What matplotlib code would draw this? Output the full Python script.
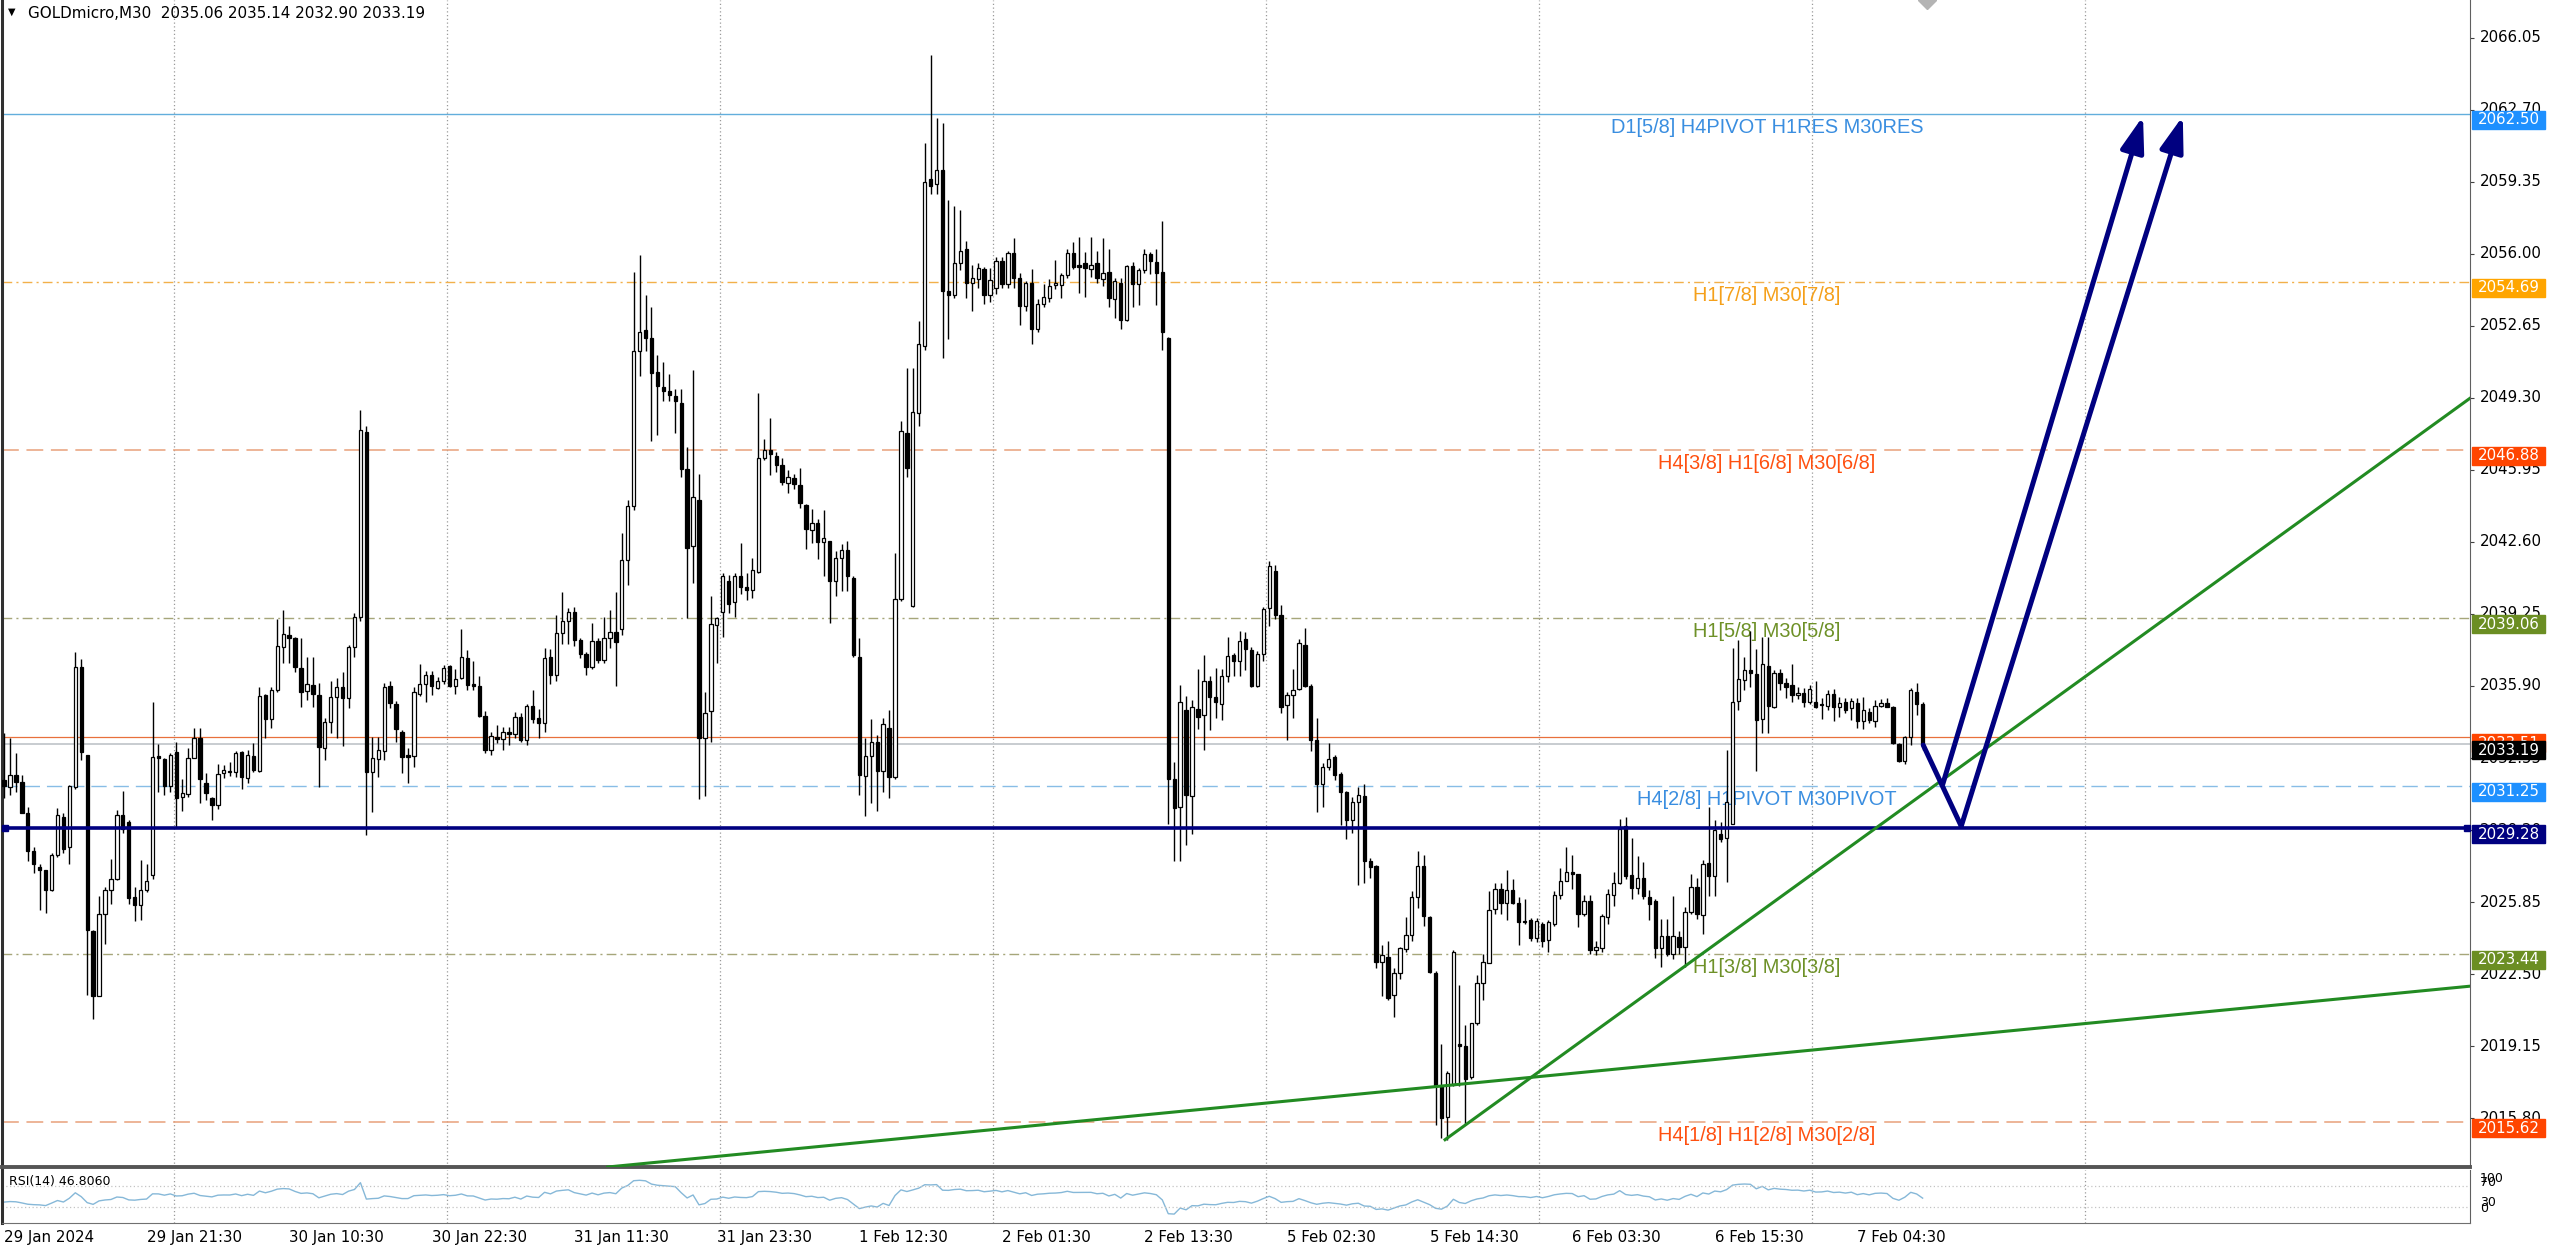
import numpy as np
import matplotlib
matplotlib.use("Agg")
import matplotlib.pyplot as plt
from matplotlib import font_manager as fm
from matplotlib.patches import Rectangle
from matplotlib.transforms import blended_transform_factory, ScaledTranslation

# --------------------------------------------------------------
# datos GOLDmicro M30
# --------------------------------------------------------------
opens = [
    2031.53, 2031.21, 2031.76, 2031.45, 2030.00, 2028.23, 2027.49, 2027.36, 2026.40, 2028.03,
    2029.82, 2028.42, 2031.21, 2036.76, 2032.69, 2024.51, 2021.48, 2025.31, 2026.40, 2026.94,
    2029.89, 2029.58, 2026.09, 2025.70, 2026.40, 2027.10, 2032.64, 2032.49, 2031.26, 2032.81,
    2030.75, 2030.86, 2032.57, 2033.50, 2031.40, 2030.67, 2030.35, 2031.87, 2031.90, 2031.91,
    2032.81, 2031.60, 2032.64, 2031.96, 2035.49, 2034.37, 2035.69, 2037.69, 2038.25, 2038.13,
    2036.73, 2035.67, 2035.94, 2035.47, 2033.00, 2034.21, 2035.38, 2035.87, 2035.33, 2037.71,
    2039.10, 2047.70, 2031.91, 2032.49, 2032.89, 2035.92, 2035.07, 2033.78, 2032.69, 2032.62,
    2035.53, 2035.97, 2036.42, 2035.80, 2036.12, 2036.83, 2035.88, 2036.28, 2037.22, 2035.97,
    2035.88, 2034.49, 2032.94, 2033.51, 2033.42, 2033.78, 2033.66, 2034.46, 2033.39, 2034.99,
    2034.40, 2034.19, 2037.26, 2036.42, 2038.38, 2038.91, 2039.36, 2038.02, 2037.40, 2036.78,
    2037.97, 2037.13, 2038.11, 2038.43, 2038.56, 2041.77, 2044.26, 2051.48, 2052.46, 2052.10,
    2050.50, 2049.79, 2049.61, 2049.38, 2049.07, 2046.01, 2042.39, 2044.53, 2033.48, 2034.72,
    2038.74, 2039.36, 2040.79, 2039.81, 2041.00, 2040.52, 2040.34, 2041.18, 2046.52, 2046.88,
    2046.58, 2046.19, 2045.33, 2045.56, 2045.24, 2044.32, 2043.16, 2043.48, 2042.59, 2042.66,
    2040.77, 2041.85, 2042.24, 2040.94, 2037.24, 2031.70, 2032.63, 2033.30, 2031.94, 2033.96,
    2031.65, 2039.95, 2047.66, 2039.63, 2048.58, 2051.71, 2059.47, 2059.25, 2059.91, 2054.25,
    2054.07, 2055.55, 2056.22, 2054.66, 2054.81, 2055.30, 2054.07, 2054.42, 2055.65, 2054.57,
    2056.02, 2054.86, 2053.58, 2054.62, 2052.52, 2053.68, 2053.93, 2054.54, 2054.54, 2055.03,
    2056.04, 2055.48, 2055.55, 2055.30, 2055.55, 2054.81, 2055.16, 2053.88, 2054.66, 2052.94,
    2055.43, 2054.57, 2055.23, 2055.97, 2055.60, 2055.16, 2052.10, 2031.57, 2030.27, 2034.78,
    2030.76, 2034.85, 2034.53, 2036.14, 2035.41, 2035.07, 2036.35, 2037.33, 2037.06, 2038.10,
    2037.56, 2035.91, 2037.38, 2039.52, 2041.25, 2039.20, 2035.01, 2035.50, 2035.78, 2037.81,
    2035.91, 2033.37, 2031.32, 2032.11, 2032.61, 2031.81, 2030.97, 2029.67, 2030.50, 2030.79,
    2027.76, 2027.53, 2023.07, 2023.30, 2021.52, 2022.54, 2023.69, 2024.32, 2026.10, 2027.53,
    2025.16, 2022.54, 2017.28, 2015.85, 2017.37, 2019.20, 2019.15, 2017.72, 2020.22, 2022.09,
    2023.02, 2025.52, 2026.46, 2025.83, 2026.40, 2025.80, 2024.98, 2025.03, 2024.19, 2024.85,
    2024.09, 2024.85, 2026.19, 2026.81, 2027.26, 2027.17, 2025.30, 2025.92, 2023.61, 2023.70,
    2025.16, 2026.20, 2026.73, 2029.37, 2027.13, 2026.51, 2026.98, 2026.07, 2025.92, 2023.71,
    2024.28, 2023.43, 2024.24, 2023.77, 2025.37, 2026.57, 2025.26, 2027.66, 2027.04, 2029.03,
    2028.84, 2029.50, 2035.22, 2036.18, 2036.65, 2036.46, 2034.35, 2036.84, 2034.94, 2036.49,
    2036.06, 2035.95, 2035.48, 2035.56, 2035.17, 2035.17, 2035.06, 2034.97, 2035.53, 2034.91,
    2035.17, 2034.86, 2035.13, 2034.29, 2034.70, 2034.29, 2034.97, 2035.09, 2034.94, 2033.20,
    2032.42, 2033.51, 2035.64, 2035.06,
]
highs = [
    2033.70, 2033.47, 2032.77, 2031.76, 2030.28, 2028.42, 2027.64, 2027.36, 2028.11, 2030.21,
    2029.97, 2031.29, 2037.47, 2037.15, 2032.69, 2024.54, 2026.12, 2026.56, 2027.86, 2030.13,
    2031.03, 2029.66, 2026.56, 2027.80, 2027.64, 2035.14, 2033.20, 2032.54, 2032.77, 2033.30,
    2031.56, 2033.00, 2033.96, 2033.93, 2031.84, 2030.75, 2032.27, 2032.22, 2032.38, 2032.88,
    2032.89, 2032.92, 2033.23, 2035.87, 2035.53, 2035.87, 2039.00, 2039.45, 2038.67, 2038.20,
    2038.13, 2037.27, 2037.24, 2036.03, 2034.40, 2036.14, 2036.26, 2036.57, 2037.82, 2039.30,
    2048.75, 2048.00, 2033.54, 2033.54, 2036.06, 2036.11, 2035.18, 2033.85, 2033.00, 2035.83,
    2036.90, 2036.60, 2036.60, 2036.33, 2036.87, 2036.87, 2036.69, 2038.56, 2037.58, 2037.04,
    2036.36, 2034.72, 2033.75, 2034.10, 2034.01, 2034.01, 2034.69, 2034.63, 2035.08, 2035.71,
    2034.81, 2037.67, 2037.62, 2039.18, 2040.29, 2039.54, 2039.57, 2038.11, 2037.49, 2038.83,
    2038.11, 2039.09, 2039.45, 2040.25, 2043.01, 2044.53, 2055.13, 2055.94, 2054.07, 2053.53,
    2051.30, 2050.95, 2050.41, 2049.70, 2049.70, 2047.03, 2050.59, 2045.78, 2035.62, 2040.07,
    2039.09, 2041.14, 2041.05, 2041.14, 2042.57, 2041.14, 2041.86, 2049.52, 2047.38, 2048.36,
    2046.76, 2046.49, 2045.92, 2045.78, 2046.04, 2044.35, 2044.14, 2043.65, 2044.07, 2042.66,
    2042.17, 2042.49, 2042.66, 2041.01, 2038.15, 2033.47, 2034.36, 2033.62, 2034.41, 2034.77,
    2042.10, 2048.21, 2050.67, 2050.67, 2052.89, 2061.14, 2065.26, 2062.33, 2062.06, 2058.51,
    2058.20, 2058.02, 2056.59, 2055.48, 2055.55, 2055.40, 2055.35, 2055.85, 2055.85, 2056.14,
    2056.71, 2055.11, 2054.74, 2055.30, 2053.88, 2054.57, 2054.81, 2055.72, 2055.11, 2056.22,
    2056.54, 2056.78, 2056.09, 2056.78, 2056.14, 2056.71, 2056.22, 2054.86, 2054.86, 2055.48,
    2055.60, 2055.35, 2056.22, 2056.09, 2056.22, 2057.52, 2052.15, 2032.38, 2035.94, 2035.44,
    2035.27, 2036.67, 2037.32, 2036.35, 2036.74, 2036.71, 2038.17, 2037.42, 2038.45, 2038.40,
    2037.69, 2037.51, 2039.56, 2041.70, 2041.52, 2039.65, 2035.64, 2036.71, 2038.10, 2038.58,
    2035.99, 2034.39, 2032.34, 2033.23, 2032.70, 2031.89, 2031.00, 2030.73, 2031.18, 2031.36,
    2027.88, 2027.58, 2023.87, 2024.05, 2022.80, 2023.78, 2025.16, 2026.37, 2028.24, 2028.06,
    2025.21, 2022.63, 2019.24, 2017.99, 2023.61, 2022.00, 2020.13, 2020.22, 2022.45, 2023.43,
    2026.37, 2026.76, 2026.76, 2027.35, 2026.90, 2026.10, 2026.01, 2025.12, 2025.12, 2024.94,
    2025.03, 2026.37, 2027.44, 2028.42, 2028.06, 2027.17, 2026.19, 2026.19, 2024.05, 2025.30,
    2026.46, 2027.24, 2029.73, 2029.81, 2028.84, 2027.97, 2027.71, 2026.42, 2025.99, 2025.06,
    2025.06, 2026.15, 2024.52, 2025.64, 2027.16, 2026.98, 2027.79, 2030.27, 2029.65, 2029.57,
    2032.92, 2037.66, 2038.05, 2037.27, 2038.44, 2037.61, 2038.20, 2038.17, 2036.65, 2036.68,
    2036.26, 2036.93, 2035.84, 2035.80, 2035.95, 2036.11, 2035.33, 2035.69, 2035.75, 2035.40,
    2035.33, 2035.33, 2035.33, 2035.40, 2034.86, 2035.25, 2035.28, 2035.33, 2034.97, 2033.26,
    2033.57, 2035.79, 2036.06, 2035.14,
]
lows = [
    2030.67, 2030.83, 2030.98, 2029.97, 2027.77, 2027.18, 2025.47, 2025.35, 2026.37, 2027.95,
    2028.11, 2027.60, 2031.09, 2032.46, 2021.51, 2020.39, 2021.48, 2023.89, 2025.78, 2026.87,
    2029.04, 2025.75, 2024.96, 2025.03, 2026.32, 2026.90, 2030.95, 2030.83, 2030.98, 2029.35,
    2030.10, 2030.72, 2032.54, 2030.47, 2030.59, 2029.69, 2030.16, 2031.60, 2031.71, 2031.68,
    2031.09, 2031.37, 2031.91, 2031.91, 2033.47, 2033.93, 2035.64, 2036.96, 2036.96, 2036.57,
    2034.91, 2035.25, 2034.91, 2031.21, 2032.46, 2033.70, 2033.50, 2033.11, 2034.86, 2037.27,
    2038.90, 2028.96, 2030.05, 2031.68, 2032.46, 2034.86, 2033.31, 2031.87, 2031.40, 2032.14,
    2035.44, 2035.17, 2035.47, 2035.76, 2035.97, 2035.83, 2035.53, 2036.24, 2035.70, 2035.70,
    2034.46, 2032.76, 2032.68, 2033.26, 2032.94, 2033.15, 2033.48, 2033.30, 2033.15, 2034.19,
    2033.48, 2033.75, 2035.97, 2036.15, 2037.85, 2037.85, 2037.76, 2037.22, 2036.42, 2036.69,
    2036.95, 2036.95, 2037.67, 2035.88, 2038.29, 2040.61, 2044.08, 2050.32, 2051.48, 2047.29,
    2047.56, 2049.16, 2049.16, 2047.65, 2045.60, 2039.04, 2040.70, 2030.63, 2030.80, 2033.30,
    2036.95, 2038.20, 2039.27, 2039.09, 2040.16, 2039.90, 2039.98, 2041.14, 2046.40, 2045.69,
    2045.87, 2045.24, 2044.89, 2045.06, 2044.17, 2042.25, 2042.54, 2041.80, 2041.01, 2038.84,
    2040.08, 2040.32, 2040.32, 2037.24, 2030.83, 2029.85, 2030.46, 2030.09, 2030.96, 2030.71,
    2031.58, 2039.83, 2045.62, 2039.58, 2048.01, 2051.53, 2058.80, 2058.80, 2051.16, 2052.03,
    2053.92, 2055.23, 2053.92, 2053.33, 2054.42, 2053.68, 2053.75, 2054.12, 2054.42, 2054.42,
    2054.42, 2052.69, 2053.33, 2051.78, 2052.35, 2053.51, 2053.75, 2054.37, 2053.93, 2054.86,
    2055.30, 2054.17, 2054.00, 2054.91, 2054.66, 2054.49, 2053.51, 2053.01, 2052.52, 2052.89,
    2053.51, 2053.63, 2055.11, 2055.06, 2053.63, 2051.53, 2029.48, 2027.75, 2027.75, 2028.49,
    2029.00, 2033.91, 2032.93, 2033.86, 2034.39, 2034.30, 2036.08, 2036.35, 2036.35, 2036.62,
    2035.85, 2035.85, 2037.06, 2038.67, 2039.00, 2034.66, 2033.41, 2034.39, 2035.73, 2035.85,
    2032.88, 2030.02, 2030.25, 2031.98, 2031.54, 2029.43, 2028.78, 2029.04, 2026.64, 2026.72,
    2026.99, 2022.80, 2021.47, 2021.29, 2020.52, 2022.27, 2023.52, 2024.05, 2025.57, 2024.76,
    2022.54, 2015.50, 2014.87, 2014.78, 2017.30, 2017.28, 2015.50, 2017.63, 2020.13, 2021.29,
    2023.02, 2025.30, 2025.30, 2025.03, 2025.75, 2023.87, 2024.85, 2024.02, 2023.99, 2023.78,
    2023.52, 2024.76, 2026.01, 2026.81, 2026.46, 2024.68, 2025.21, 2023.43, 2023.40, 2023.52,
    2024.85, 2025.69, 2026.70, 2026.93, 2025.99, 2026.23, 2025.99, 2025.02, 2023.27, 2022.81,
    2023.35, 2023.20, 2023.43, 2022.81, 2025.30, 2025.06, 2024.36, 2026.15, 2026.15, 2028.64,
    2026.77, 2029.47, 2034.78, 2035.72, 2035.84, 2031.95, 2033.72, 2033.69, 2034.86, 2035.72,
    2035.33, 2035.17, 2035.29, 2034.91, 2035.06, 2034.86, 2034.35, 2034.78, 2034.28, 2034.47,
    2034.63, 2034.32, 2033.93, 2033.88, 2034.16, 2033.97, 2034.91, 2034.91, 2033.20, 2032.37,
    2032.29, 2033.15, 2034.55, 2032.90,
]
closes = [
    2031.25, 2031.76, 2031.45, 2030.00, 2028.23, 2027.61, 2027.33, 2026.40, 2028.03, 2029.89,
    2028.33, 2031.25, 2036.77, 2032.85, 2024.57, 2021.46, 2025.31, 2026.40, 2026.94, 2029.89,
    2029.27, 2026.06, 2025.70, 2026.43, 2026.82, 2032.61, 2032.55, 2031.26, 2032.69, 2030.67,
    2030.92, 2032.57, 2033.50, 2031.56, 2030.90, 2030.35, 2031.81, 2031.99, 2031.96, 2032.77,
    2031.65, 2032.69, 2031.99, 2035.44, 2034.37, 2035.72, 2037.74, 2038.31, 2038.13, 2036.76,
    2035.64, 2035.98, 2035.53, 2033.05, 2034.21, 2035.38, 2035.83, 2035.33, 2037.71, 2039.10,
    2047.80, 2031.91, 2032.53, 2032.92, 2035.87, 2035.10, 2033.89, 2032.58, 2032.61, 2035.62,
    2035.97, 2036.42, 2035.88, 2036.15, 2036.72, 2035.88, 2036.24, 2037.26, 2035.94, 2035.88,
    2034.49, 2032.94, 2033.57, 2033.42, 2033.78, 2033.66, 2034.46, 2033.39, 2034.99, 2034.37,
    2034.19, 2037.22, 2036.42, 2038.38, 2038.91, 2039.32, 2038.02, 2037.40, 2036.78, 2037.97,
    2037.13, 2038.11, 2038.43, 2037.93, 2041.77, 2044.26, 2051.48, 2052.37, 2052.10, 2050.45,
    2049.84, 2049.61, 2049.43, 2049.16, 2046.01, 2042.30, 2044.67, 2033.48, 2034.64, 2038.77,
    2039.04, 2041.02, 2039.72, 2041.02, 2040.52, 2040.34, 2041.28, 2046.49, 2046.88, 2046.67,
    2046.19, 2045.38, 2045.63, 2045.28, 2044.39, 2043.19, 2043.48, 2042.59, 2042.79, 2040.77,
    2041.85, 2042.24, 2041.01, 2037.32, 2031.75, 2032.63, 2033.30, 2031.94, 2034.11, 2031.65,
    2039.95, 2047.76, 2046.04, 2048.65, 2051.78, 2059.35, 2059.17, 2059.91, 2054.25, 2054.07,
    2055.55, 2056.14, 2054.66, 2054.86, 2055.35, 2054.07, 2054.79, 2055.65, 2054.57, 2056.02,
    2054.86, 2053.58, 2054.62, 2052.52, 2053.68, 2054.00, 2054.49, 2054.64, 2055.03, 2056.04,
    2055.40, 2055.40, 2055.35, 2055.48, 2054.86, 2055.11, 2053.93, 2054.74, 2052.94, 2055.43,
    2054.57, 2055.23, 2055.97, 2055.65, 2055.11, 2052.35, 2031.57, 2030.22, 2035.15, 2030.83,
    2034.90, 2034.46, 2036.14, 2035.37, 2035.14, 2036.35, 2037.28, 2037.06, 2037.99, 2037.63,
    2035.91, 2037.38, 2039.47, 2041.48, 2039.20, 2034.92, 2035.50, 2035.73, 2037.92, 2035.91,
    2033.37, 2031.32, 2032.11, 2032.52, 2031.75, 2030.97, 2029.67, 2030.50, 2030.82, 2027.76,
    2027.47, 2023.07, 2023.37, 2021.41, 2022.54, 2023.73, 2024.32, 2026.10, 2027.53, 2025.21,
    2022.59, 2017.31, 2015.82, 2017.90, 2023.52, 2019.18, 2017.63, 2020.22, 2022.09, 2023.07,
    2025.48, 2026.46, 2025.83, 2026.40, 2025.83, 2024.94, 2024.91, 2024.19, 2024.98, 2024.05,
    2024.94, 2026.19, 2026.81, 2027.26, 2027.15, 2025.30, 2025.92, 2023.61, 2023.78, 2025.21,
    2026.23, 2026.73, 2029.26, 2027.04, 2026.51, 2026.98, 2026.15, 2025.76, 2023.71, 2024.28,
    2023.43, 2024.28, 2023.77, 2025.37, 2026.57, 2025.30, 2027.63, 2027.04, 2029.18, 2028.80,
    2030.51, 2035.17, 2036.21, 2036.62, 2036.49, 2034.32, 2036.93, 2034.97, 2036.49, 2036.06,
    2035.87, 2035.48, 2035.59, 2035.17, 2035.75, 2034.91, 2035.00, 2035.53, 2034.94, 2035.13,
    2034.78, 2035.22, 2034.29, 2034.78, 2034.32, 2034.97, 2035.09, 2034.94, 2033.23, 2032.42,
    2033.51, 2035.72, 2035.06, 2033.19,
]

price_ticks = [2066.05, 2062.70, 2059.35, 2056.00, 2052.65, 2049.30, 2045.95, 2042.60,
               2039.25, 2035.90, 2032.55, 2029.20, 2025.85, 2022.50, 2019.15, 2015.80]
time_labels = ["29 Jan 2024", "29 Jan 21:30", "30 Jan 10:30", "30 Jan 22:30", "31 Jan 11:30",
               "31 Jan 23:30", "1 Feb 12:30", "2 Feb 01:30", "2 Feb 13:30", "5 Feb 02:30",
               "5 Feb 14:30", "6 Feb 03:30", "6 Feb 15:30", "7 Feb 04:30"]
label_bars = [0, 24, 48, 72, 96, 120, 144, 168, 192, 216, 240, 264, 288, 312]
day_lines = [28.6, 74.6, 120.5, 166.5, 212.5, 258.4, 304.4, 350.4]

levels = [2062.50, 2054.69, 2046.88, 2039.06, 2033.51, 2033.19, 2031.25, 2029.28, 2023.44, 2015.62]
level_names = ["D1[5/8] H4PIVOT H1RES M30RES", "H1[7/8] M30[7/8]", "H4[3/8] H1[6/8] M30[6/8]",
               "H1[5/8] M30[5/8]", "", "", "H4[2/8] H1PIVOT M30PIVOT", "",
               "H1[3/8] M30[3/8]", "H4[1/8] H1[2/8] M30[2/8]"]

# lineas dibujadas a mano en el grafico (barra, precio)
trend_a_x = [199.7, 415.2]
trend_a_y = [2016.16, 2021.94]
trend_b_x = [242.6, 415.2]
trend_b_y = [2014.80, 2049.29]
path_x = [323.1, 329.5]
path_y = [2033.15, 2029.38]
arrow_from = [(326.4, 2031.34), (329.5, 2029.38)]
arrow_to = [(360.1, 2062.40), (366.8, 2062.40)]

# --------------------------------------------------------------
# estilos
# --------------------------------------------------------------
DD = (0, (7, 3, 1.5, 3))
DS = (0, (11, 5))
styles = [
    dict(c="#62aedc", ls="-", lw=1.0, box="#1e90ff", tc="#3a8ee0"),
    dict(c="#f2b04a", ls=DD, lw=1.0, box="#ffa500", tc="#f5a01a"),
    dict(c="#e8a07a", ls=DS, lw=1.1, box="#ff4500", tc="#ff5010"),
    dict(c="#a6a67a", ls=DD, lw=1.0, box="#6b8e23", tc="#6e9128"),
    dict(c="#e8703c", ls="-", lw=0.9, box="#ff4500", tc=None),
    dict(c="#c8ccd0", ls="-", lw=1.4, box="#000000", tc=None),
    dict(c="#88bde6", ls=DS, lw=1.0, box="#1e90ff", tc="#3a8ee0"),
    dict(c="#000080", ls="-", lw=2.6, box="#000080", tc=None),
    dict(c="#a6a67a", ls=DD, lw=1.0, box="#6b8e23", tc="#6e9128"),
    dict(c="#e8a07a", ls=DS, lw=1.1, box="#ff4500", tc="#ff5010"),
]
NAVY = "#000080"
GREEN = "#228b22"

plt.rcParams["font.family"] = "DejaVu Sans"
names = {f.name for f in fm.fontManager.ttflist}
if "Liberation Sans Narrow" in names:
    xfont, xsize, rsize = "Liberation Sans Narrow", 14.0, 12.5
else:
    xfont, xsize, rsize = "DejaVu Sans", 10.8, 9.0

o = np.array(opens)
h = np.array(highs)
l = np.array(lows)
c = np.array(closes)
n = len(c)
idx = np.arange(n)

# RSI(14) de Wilder a partir de los cierres
diff = np.diff(c)
gain = np.clip(diff, 0, None)
loss = np.clip(-diff, 0, None)
ag, al = gain[:14].mean(), loss[:14].mean()
rsi = np.empty(n)
rsi[0] = 100 * ag / (ag + al)
for i in range(1, n):
    ag = (ag * 13 + gain[i - 1]) / 14
    al = (al * 13 + loss[i - 1]) / 14
    rsi[i] = 100 * ag / (ag + al)

# --------------------------------------------------------------
# figura
# --------------------------------------------------------------
W, H = 2560, 1252
fig = plt.figure(figsize=(W / 100, H / 100), dpi=100, facecolor="white")
ax = fig.add_axes([2 / W, 1 - 1167 / H, 2468 / W, 1167 / H])
rx = fig.add_axes([2 / W, 1 - 1223 / H, 2468 / W, 53 / H], sharex=ax)

ax.set_xlim(-0.34, 415.15)
ax.set_ylim(2013.53, 2067.80)
rx.set_ylim(0, 100)

for a in (ax, rx):
    for d in day_lines:
        a.axvline(d, color="#9a9a9a", ls=(0, (1, 2)), lw=0.9, zorder=0.5)

# niveles horizontales
for p, name, st in zip(levels, level_names, styles):
    ax.axhline(p, color=st["c"], ls=st["ls"], lw=st["lw"], zorder=4 if st["c"] == NAVY else 1)
    if name:
        ax.text(296.8, p, name, color=st["tc"], fontsize=14.4, family="Liberation Sans",
                ha="center", va="top", zorder=1.5,
                transform=ax.transData + ScaledTranslation(0, -4 / 100, fig.dpi_scale_trans))
ax.plot([0.2, 414.7], [levels[7]] * 2, "s", ms=4.5, color=NAVY, zorder=4, clip_on=False)

# velas
up = c >= o
lo = np.minimum(o, c)
bh = np.maximum(np.abs(c - o), 0.05)
ax.vlines(idx, l, h, color="black", lw=1.0, zorder=3)
ax.bar(idx[up], bh[up], 0.56, bottom=lo[up], color="white", edgecolor="black", lw=0.9, zorder=3.5)
ax.bar(idx[~up], bh[~up], 0.56, bottom=lo[~up], color="black", edgecolor="black", lw=0.9, zorder=3.5)

# lineas de tendencia y flechas
ax.axline((trend_a_x[0], trend_a_y[0]), (trend_a_x[1], trend_a_y[1]), color=GREEN, lw=2.2, zorder=4)
ax.plot(trend_b_x, trend_b_y, color=GREEN, lw=2.2, zorder=4)
ax.plot(path_x, path_y, color=NAVY, lw=3.6, solid_capstyle="round", zorder=5)
for s, t in zip(arrow_from, arrow_to):
    ax.annotate("", xy=t, xytext=s, zorder=5,
                arrowprops=dict(arrowstyle="-|>,head_length=0.9,head_width=0.3", color=NAVY,
                                lw=3.6, mutation_scale=24, shrinkA=0, shrinkB=0))
ax.plot([323.7], [2067.80], marker="D", ms=9, color="#b4b4b4", zorder=6)

# eje de precios a la derecha
ax.yaxis.tick_right()
ax.set_yticks(price_ticks)
ax.set_yticklabels([])
ax.tick_params(axis="y", length=3, width=0.8, color="#404040")
tr = blended_transform_factory(ax.transAxes, ax.transData)
for v in price_ticks:
    ax.text(1 + 10 / 2468, v, f"{v:.2f}", fontsize=10.8, ha="left", va="center",
            transform=tr, clip_on=False, zorder=2)
bw = 73 / 2468
down6 = ScaledTranslation(0, -6 / 100, fig.dpi_scale_trans)
for k, (p, st) in enumerate(zip(levels, styles)):
    ax.add_patch(Rectangle((1 + 2 / 2468, p - 0.42), bw, 0.84, transform=tr + down6,
                           color=st["box"], clip_on=False, zorder=6 + 2 * k))
    ax.text(1 + 2 / 2468 + bw / 2, p, f"{p:.2f}", color="white", fontsize=10.8,
            ha="center", va="center", transform=tr + down6, clip_on=False, zorder=7 + 2 * k)

# bordes
for a in (ax, rx):
    a.spines["left"].set_linewidth(2.2)
    a.spines["left"].set_color("#303030")
    a.spines["right"].set_color("#606060")
ax.spines["top"].set_visible(False)
ax.spines["bottom"].set_linewidth(2.8)
ax.spines["bottom"].set_color("#555555")
rx.spines["top"].set_visible(False)
rx.spines["bottom"].set_color("#707070")
ax.tick_params(axis="x", length=0, labelbottom=False)

# panel RSI
rx.plot(idx, rsi, color="#86b8d8", lw=1.0)
for lv in (70, 30):
    rx.axhline(lv, color="#c4c4c4", ls=(0, (1, 2)), lw=0.9)
rx.set_yticks([])
rx.text(0.003, 0.79, "RSI(14) 46.8060", transform=rx.transAxes, family=xfont,
        fontsize=rsize, ha="left", va="center")
rtr = blended_transform_factory(rx.transAxes, fig.transFigure)
for txt, ypx in (("100", 1179), ("70", 1183), ("30", 1203), ("0", 1208)):
    rx.text(1 + 10 / 2468, 1 - ypx / H, txt, transform=rtr, family=xfont, fontsize=rsize,
            ha="left", va="center", clip_on=False)
rx.set_xticks(label_bars)
rx.set_xticklabels(time_labels, ha="left", family=xfont, fontsize=xsize)
rx.tick_params(axis="x", length=0, pad=5)

# cabecera
fig.text(8 / W, 1 - 12 / H, "\u25bc", fontsize=7, va="center", ha="left")
fig.text(28 / W, 1 - 13 / H, "GOLDmicro,M30  2035.06 2035.14 2032.90 2033.19",
         fontsize=10.9, va="center", ha="left")

fig.savefig("out.png", dpi=100, facecolor="white")
